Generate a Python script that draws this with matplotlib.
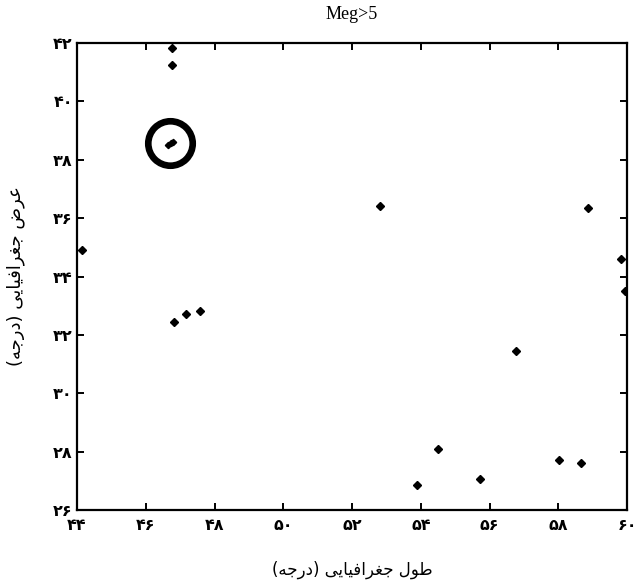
import numpy as np
from matplotlib import pyplot as plt

# epicentres with magnitude > 5 (longitude, latitude in degrees)
lon = [46.76, 46.76, 44.15, 52.81, 58.86, 59.84, 59.93,
       46.82, 47.17, 47.58, 56.76, 54.49, 53.88, 55.72, 58.01, 58.65]
lat = [41.83, 41.25, 34.91, 36.42, 36.35, 34.60, 33.51,
       32.45, 32.72, 32.82, 31.45, 28.10, 26.86, 27.07, 27.72, 27.62]

# the cluster of events inside the marked circle
cl_lon = [46.64, 46.72, 46.79]
cl_lat = [38.52, 38.57, 38.62]
circle_lon, circle_lat = 46.70, 38.56

xticks = np.arange(44, 61, 2)
yticks = np.arange(26, 43, 2)

xlabel = 'طول جغرافیایی (درجه)'
ylabel = 'عرض جغرافیایی (درجه)'

# matplotlib does no arabic shaping, so pick presentation forms by hand
# char: (isolated, final, initial, medial); None -> does not join forward
FORMS = {
    'ا': ('\uFE8D', '\uFE8E', None, None),
    'د': ('\uFEA9', '\uFEAA', None, None),
    'ر': ('\uFEAD', '\uFEAE', None, None),
    'و': ('\uFEED', '\uFEEE', None, None),
    'ج': ('\uFE9D', '\uFE9E', '\uFE9F', '\uFEA0'),
    'ض': ('\uFEBD', '\uFEBE', '\uFEBF', '\uFEC0'),
    'ط': ('\uFEC1', '\uFEC2', '\uFEC3', '\uFEC4'),
    'ع': ('\uFEC9', '\uFECA', '\uFECB', '\uFECC'),
    'غ': ('\uFECD', '\uFECE', '\uFECF', '\uFED0'),
    'ف': ('\uFED1', '\uFED2', '\uFED3', '\uFED4'),
    'ل': ('\uFEDD', '\uFEDE', '\uFEDF', '\uFEE0'),
    'ه': ('\uFEE9', '\uFEEA', '\uFEEB', '\uFEEC'),
    'ی': ('\uFEEF', '\uFEF0', '\uFEF3', '\uFEF4'),
}

def shape(text):
    '''join the letters and flip to visual (left to right) order'''
    out = []
    for i, ch in enumerate(text):
        if ch not in FORMS:
            out.append(ch)
            continue
        prev = text[i-1] if i > 0 else ''
        nxt = text[i+1] if i < len(text)-1 else ''
        join_prev = prev in FORMS and FORMS[prev][2] is not None
        join_next = nxt in FORMS and FORMS[ch][2] is not None
        iso, fin, ini, med = FORMS[ch]
        if join_prev and join_next:
            out.append(med)
        elif join_prev:
            out.append(fin)
        elif join_next:
            out.append(ini)
        else:
            out.append(iso)
    vis = ''.join(reversed(out))
    return vis.translate(str.maketrans('()', ')('))

def fa_digits(v):
    return str(v).translate(str.maketrans('0123456789', '۰۱۲۳۴۵۶۷۸۹'))

fig = plt.figure(figsize=(6.37, 5.82), dpi=100)
ax = fig.add_axes([0.1209, 0.1237, 0.8634, 0.8024])

ax.plot(lon, lat, 'D', color='black', markersize=3.8, linestyle='none')
ax.plot(cl_lon, cl_lat, 'D', color='black', markersize=3.2, linestyle='none')
ax.plot(circle_lon, circle_lat, 'o', markersize=32, markerfacecolor='none',
        markeredgecolor='black', markeredgewidth=4.8)

ax.set_xlim(44, 60)
ax.set_ylim(26, 42)
ax.set_xticks(xticks)
ax.set_yticks(yticks)
ax.set_xticklabels([fa_digits(t) for t in xticks], fontsize=11.5, fontweight='bold')
ax.set_yticklabels([fa_digits(t) for t in yticks], fontsize=11.5, fontweight='bold')
ax.tick_params(direction='in', length=5, width=1.4, top=True, right=True)
ax.tick_params(axis='x', pad=6)
ax.tick_params(axis='y', pad=3)
for s in ax.spines.values():
    s.set_linewidth(1.6)

ax.set_title('Meg>5', family='Liberation Serif', fontsize=13, pad=17)
ax.set_xlabel(shape(xlabel), fontsize=12, labelpad=20)
ax.set_ylabel(shape(ylabel), fontsize=13, labelpad=20)

plt.savefig('out.png', dpi=100)
